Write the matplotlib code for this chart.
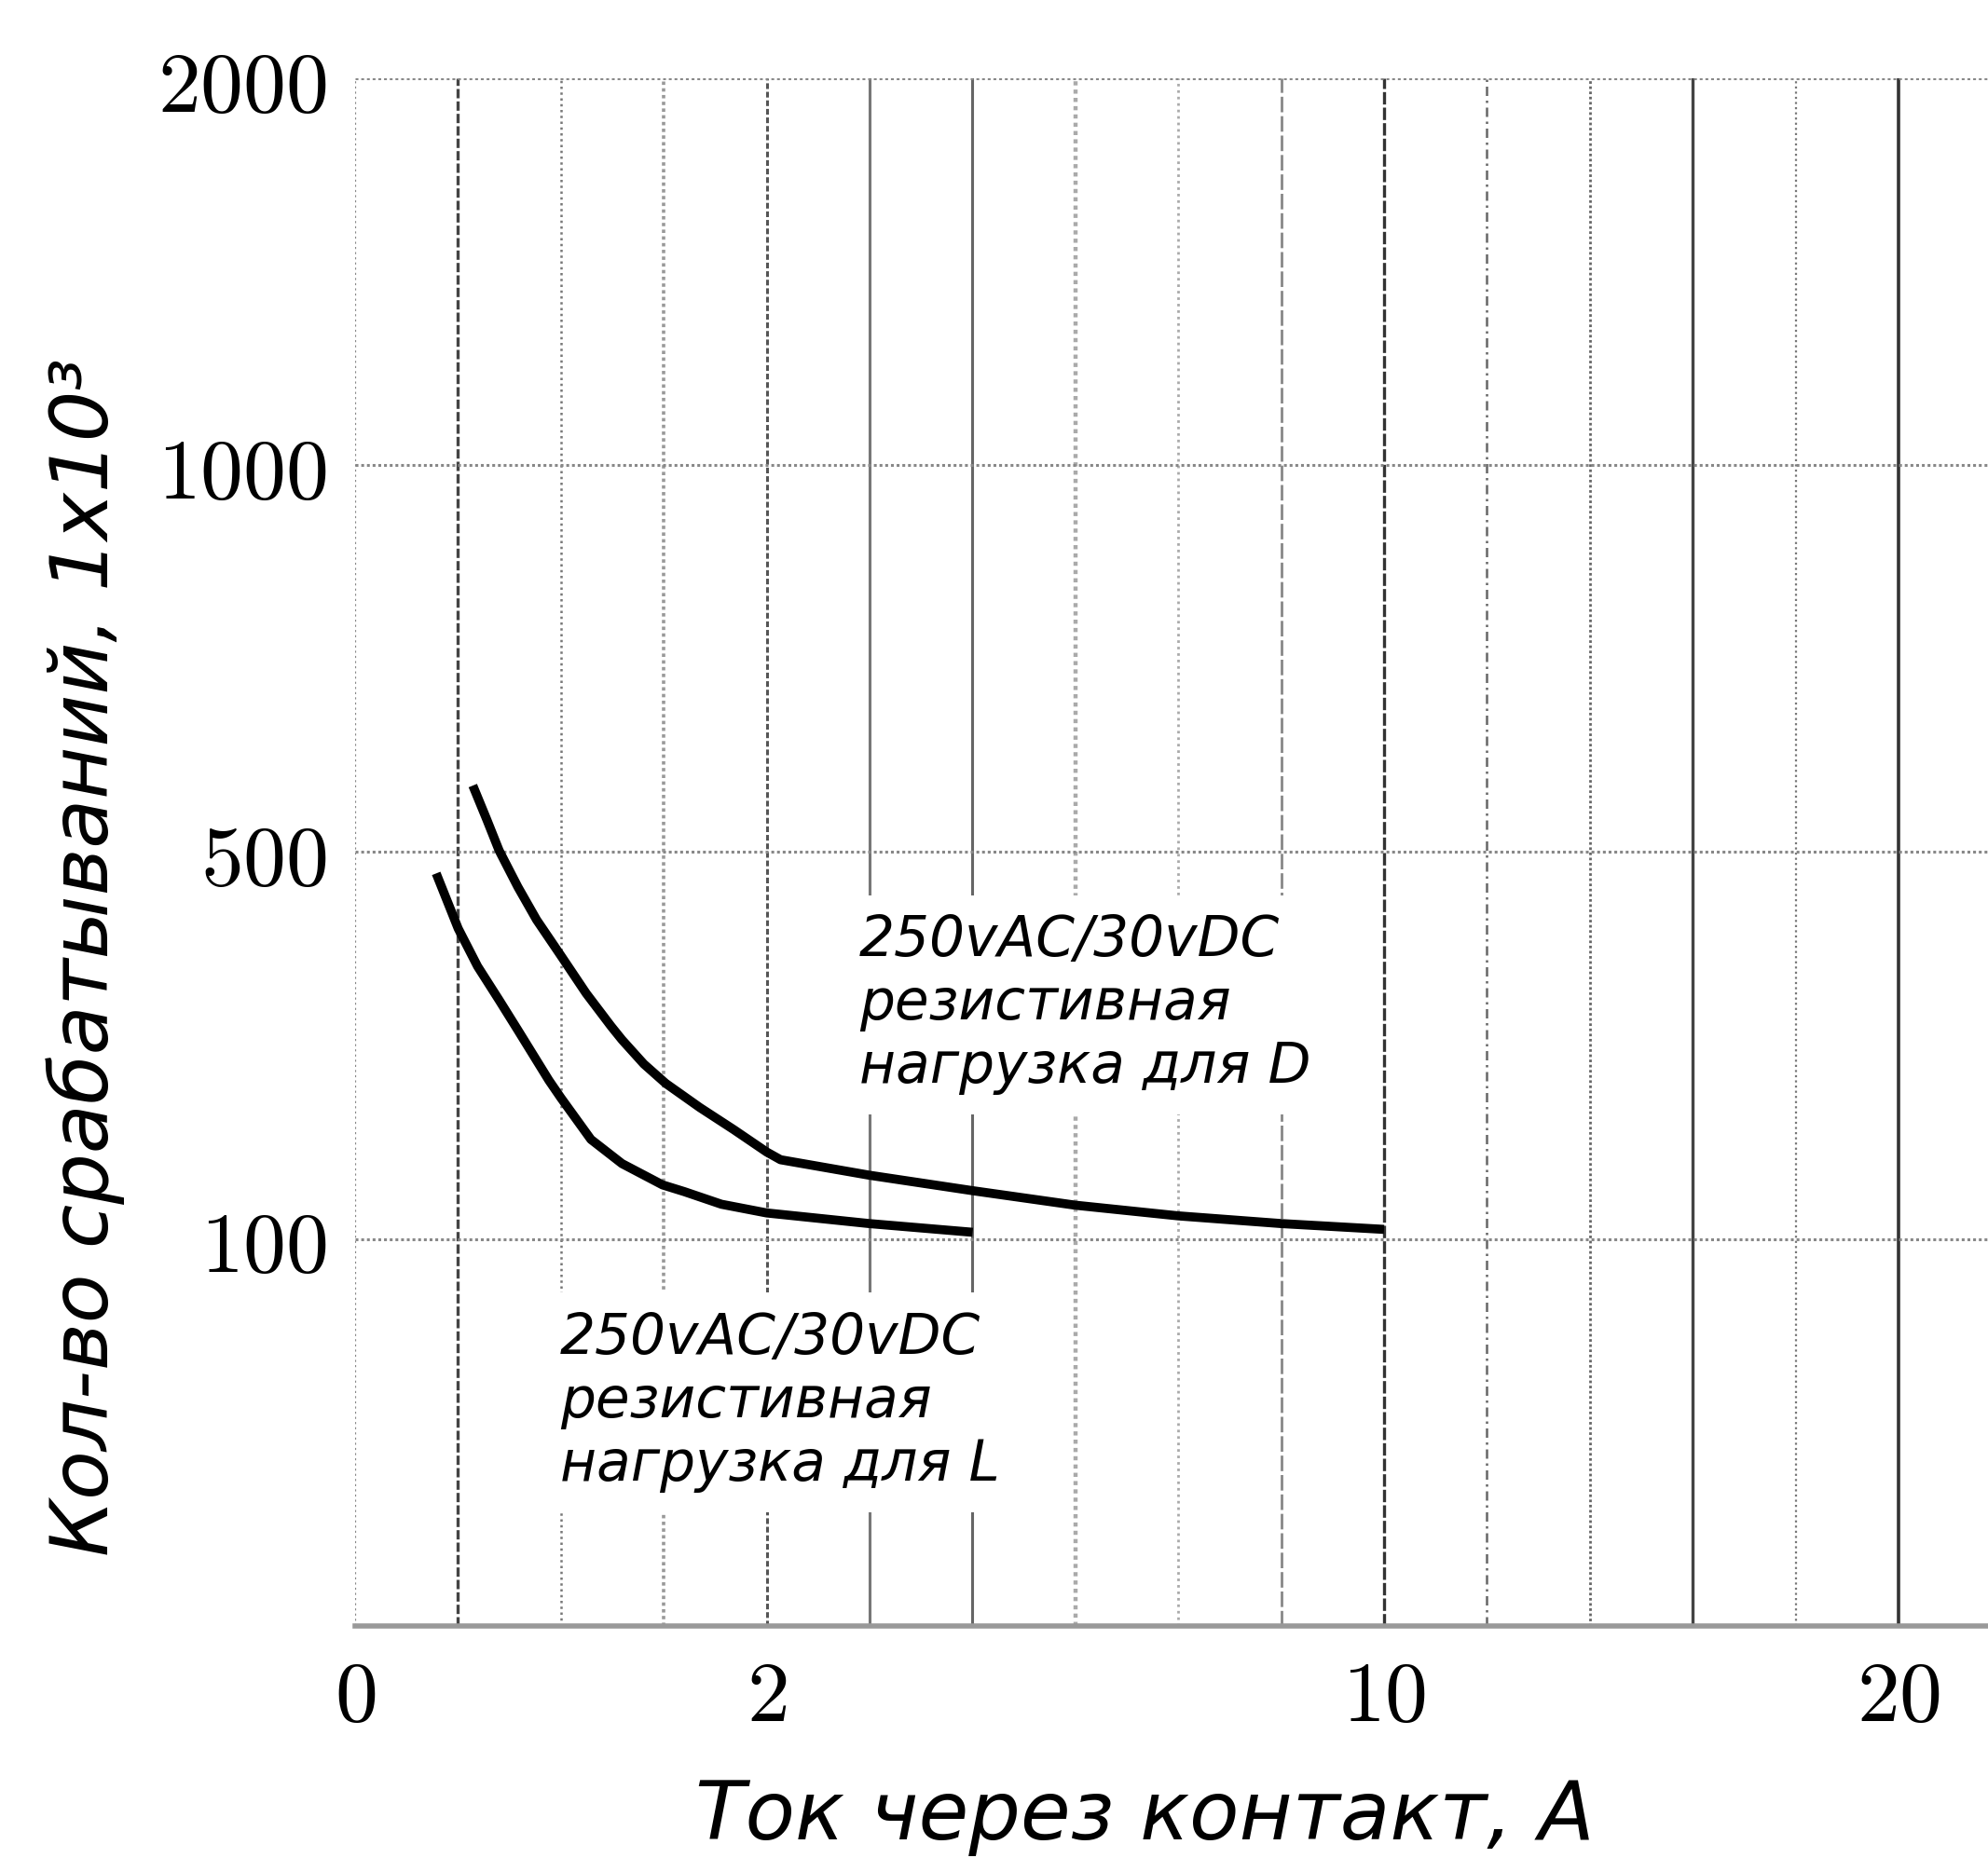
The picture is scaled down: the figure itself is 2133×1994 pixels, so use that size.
import numpy as np
import matplotlib
matplotlib.use('Agg')
import matplotlib.pyplot as plt

plt.rcParams['mathtext.fontset'] = 'cm'

# ---------------- data ----------------
x_tick_values = [0, 2, 10, 20]
x_tick_labels = ['0', '2', '10', '20']
y_tick_values = [100, 500, 1000, 2000]
y_tick_labels = ['100', '500', '1000', '2000']

# curve "L" : current (A) vs operations (x10^3)
current_L = [0.394, 0.501, 0.595, 0.70, 0.791, 0.942, 1.0, 1.146, 1.297,
             1.494, 1.6, 1.78, 2.0, 3.33, 4.67]
cycles_L = [478, 421, 382, 347, 316, 264, 246, 203, 178,
            156, 149, 136, 127, 116, 107]

# curve "D"
current_D = [0.572, 0.64, 0.70, 0.791, 0.882, 1.0, 1.123, 1.244, 1.297, 1.403,
             1.509, 1.675, 1.841, 2.0, 2.18, 3.33, 4.67, 6.0, 7.33, 8.67, 10.0]
cycles_D = [586, 542, 502, 464, 430, 393, 354, 320, 306, 281,
            261, 236, 213, 190, 182, 166, 150, 135, 124, 116, 110]

label_L = '250vAC/30vDC\nрезистивная\nнагрузка для L'
label_D = '250vAC/30vDC\nрезистивная\nнагрузка для D'
x_title = 'Ток через контакт, А'
y_title = 'Кол-во срабатываний, 1x10³'

# piecewise-linear axis scales (value knots -> grid positions)
x_knot_values = [0, 2, 10, 20, 24]
x_knot_pos = [0, 4, 10, 15, 17]
y_knot_values = [0, 100, 500, 1000, 2000]
y_knot_pos = [0, 1, 2, 3, 4]


def fwd_x(v):
    return np.interp(v, x_knot_values, x_knot_pos)


def inv_x(p):
    return np.interp(p, x_knot_pos, x_knot_values)


def fwd_y(v):
    return np.interp(v, y_knot_values, y_knot_pos)


def inv_y(p):
    return np.interp(p, y_knot_pos, y_knot_values)


# ---------------- figure ----------------
W, H = 2133, 1994
fig = plt.figure(figsize=(W / 100, H / 100), dpi=100)
ax = fig.add_axes([381 / W, 1 - 1745 / H, 1 - 381 / W, (1745 - 84) / H])
ax.set_xscale('function', functions=(fwd_x, inv_x))
ax.set_yscale('function', functions=(fwd_y, inv_y))
ax.set_xlim(0, float(inv_x(15.87)))
ax.set_ylim(0, 2000)

for s in ax.spines.values():
    s.set_visible(False)

# vertical grid lines (one per grid position) with individual styles
v_styles = [
    dict(color='#888888', lw=1.6, ls=(0, (1, 1.5))),
    dict(color='#444444', lw=2.4, ls=(0, (3, 1))),
    dict(color='#777777', lw=1.8, ls=(0, (1, 1.5))),
    dict(color='#999999', lw=2.6, ls=(0, (1, 1))),
    dict(color='#555555', lw=2.2, ls=(0, (2, 1))),
    dict(color='#777777', lw=2.2, ls='-'),
    dict(color='#666666', lw=2.2, ls='-'),
    dict(color='#aaaaaa', lw=3.2, ls=(0, (1, 1))),
    dict(color='#aaaaaa', lw=2.0, ls=(0, (1, 1.5))),
    dict(color='#888888', lw=2.0, ls=(0, (6, 1.5))),
    dict(color='#333333', lw=2.4, ls=(0, (4, 1))),
    dict(color='#666666', lw=1.8, ls=(0, (4, 2, 1, 2))),
    dict(color='#666666', lw=2.0, ls=(0, (1, 1))),
    dict(color='#444444', lw=2.4, ls='-'),
    dict(color='#777777', lw=1.6, ls=(0, (1, 1.5))),
    dict(color='#333333', lw=2.6, ls='-'),
]
for i, st in enumerate(v_styles):
    ax.axvline(float(inv_x(i)), zorder=0, **st)

# horizontal grid lines
for p in range(1, 5):
    ax.axhline(float(inv_y(p)), color='#888888', lw=2.2, ls=(0, (1, 1)), zorder=0)
ax.axhline(0, color='#999999', lw=4, ls='-', zorder=0, clip_on=False)

# curves
ax.plot(current_L, cycles_L, color='black', lw=7, solid_capstyle='butt',
        solid_joinstyle='round', zorder=4)
ax.plot(current_D, cycles_D, color='black', lw=7, solid_capstyle='butt',
        solid_joinstyle='round', zorder=4)

# annotations with white background (interrupt the grid)
box = dict(boxstyle='square,pad=0.35', facecolor='white', edgecolor='none')
ax.text(float(inv_x(4.9)), float(inv_y(1.607)), label_D, ha='left', va='center',
        fontsize=43, style='italic', family='DejaVu Sans', bbox=box, zorder=3)
ax.text(float(inv_x(1.99)), float(inv_y(0.579)), label_L, ha='left', va='center',
        fontsize=43, style='italic', family='DejaVu Sans', bbox=box, zorder=3)

# ticks
ax.set_xticks(x_tick_values)
ax.set_xticklabels(['$' + t + '$' for t in x_tick_labels])
ax.set_yticks(y_tick_values)
ax.set_yticklabels(['$' + t + '$' for t in y_tick_labels])
ax.tick_params(axis='both', length=0, labelsize=66)
ax.tick_params(axis='x', pad=22)
ax.tick_params(axis='y', pad=22)
ax.minorticks_off()

# axis titles
fig.text(1228 / W, 1 - 1950 / H, x_title, ha='center', va='center',
         fontsize=63, style='italic', family='DejaVu Sans')
fig.text(92 / W, 1 - 1027 / H, y_title, ha='center', va='center', rotation=90,
         fontsize=62, style='italic', family='DejaVu Sans')

fig.savefig('out.png', dpi=100, facecolor='white')
